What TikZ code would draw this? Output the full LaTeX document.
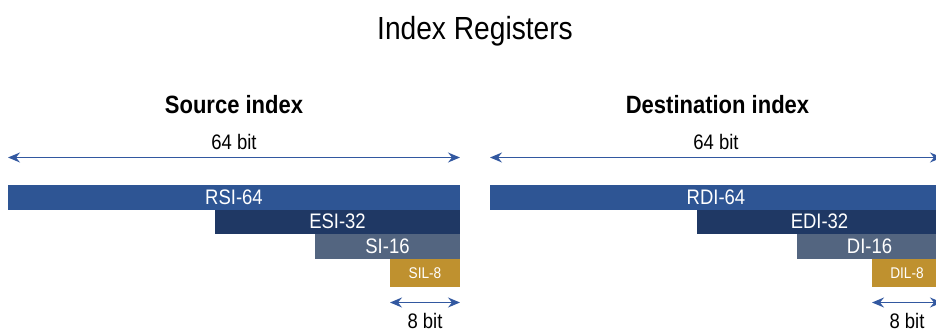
\documentclass[tikz,border=0pt]{standalone}
\usepackage{fontspec}
\setmainfont[FakeStretch=0.88]{Liberation Sans}
\usetikzlibrary{arrows.meta}
\definecolor{cRX}{HTML}{2E5594}
\definecolor{cEX}{HTML}{1F3864}
\definecolor{cXX}{HTML}{536580}
\definecolor{cXL}{HTML}{BF912F}
\definecolor{cArr}{HTML}{3258A0}
\begin{document}
\begin{tikzpicture}[x=1pt,y=-1pt,
  bar/.style={anchor=north west,inner sep=0pt,outer sep=0pt,text=white,align=center},
  dimarrow/.style={draw=cArr,line width=1.5pt,{Stealth[length=12pt,width=10pt,inset=4pt]}-{Stealth[length=12pt,width=10pt,inset=4pt]}},
  lbl/.style={anchor=base,inner sep=0pt,font=\fontsize{21}{25}\selectfont},
  head/.style={anchor=base,inner sep=0pt,font=\bfseries\fontsize{25}{30}\selectfont}
]
\useasboundingbox (0,0) rectangle (936,332);
\clip (0,0) rectangle (936,332);
\node[anchor=base,inner sep=0pt,font=\fontsize{32}{38}\selectfont] (title) at (475,39) {Index Registers};

\foreach \off/\a/\b/\c/\d/\hd/\pre in {0/RSI-64/ESI-32/SI-16/SIL-8/Source index/s, 482/RDI-64/EDI-32/DI-16/DIL-8/Destination index/d}{
  \node[head] (\pre head) at (234+\off+0.5*\off/160,113) {\hd};
  \node[bar,fill=cRX,minimum width=452pt,minimum height=24.5pt,font=\fontsize{21}{25}\selectfont] (\pre r) at (8+\off,185) {\a};
  \node[bar,fill=cEX,minimum width=245pt,minimum height=24.5pt,font=\fontsize{21}{25}\selectfont] (\pre e) at (215+\off,209.5) {\b};
  \node[bar,fill=cXX,minimum width=145pt,minimum height=24.5pt,font=\fontsize{21}{25}\selectfont] (\pre x) at (315+\off,234) {\c};
  \node[bar,fill=cXL,minimum width=70pt,minimum height=28.5pt,font=\fontsize{15.5}{18}\selectfont] (\pre l) at (390+\off,258.5) {\d};
  \coordinate (\pre a1) at (8+\off,157.5);
  \coordinate (\pre a2) at (460+\off,157.5);
  \coordinate (\pre b1) at (390+\off,302.5);
  \coordinate (\pre b2) at (460+\off,302.5);
  \draw[dimarrow] (\pre a1) -- (\pre a2);
  \draw[dimarrow] (\pre b1) -- (\pre b2);
  \node[lbl] (\pre w64) at (234+\off,149) {64 bit};
  \node[lbl] (\pre w8) at (425+\off,328) {8 bit};
}
\end{tikzpicture}
\end{document}
